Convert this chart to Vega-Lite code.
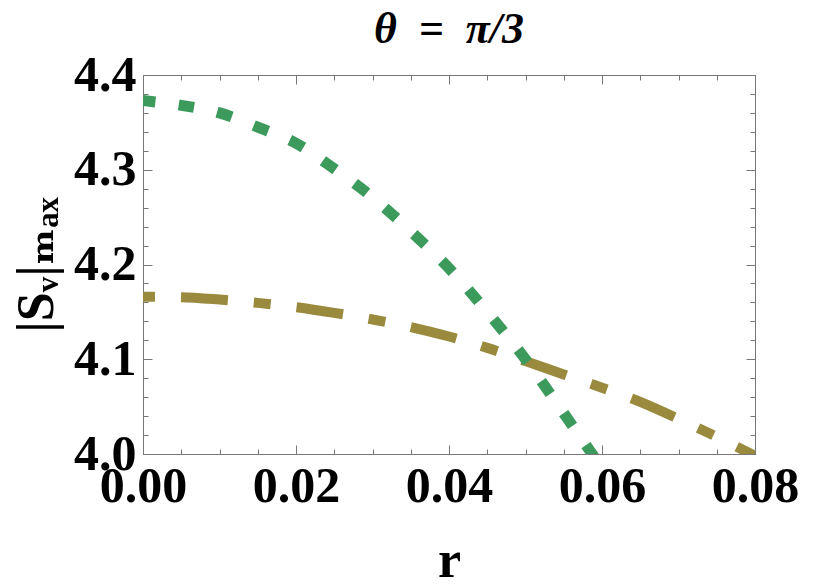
{
  "$schema": "https://vega.github.io/schema/vega-lite/v6.json",
  "autosize": {"type": "none"},
  "padding": {"left": 143, "top": 75, "right": 75, "bottom": 132},
  "width": 612,
  "height": 379,
  "background": "white",
  "config": {
    "view": {"stroke": "#777777", "strokeWidth": 1},
    "axis": {"grid": false, "domainColor": "#777777", "tickColor": "#777777", "labelFont": "Liberation Serif", "labelFontWeight": "bold", "labelFontSize": 50, "labelColor": "black", "titleFont": "Liberation Serif, DejaVu Serif", "titleFontWeight": "bold", "titleColor": "black", "labelOverlap": false, "labelBound": false, "labelFlush": false}
  },
  "title": {"text": "θ\u2002=\u2002π/3", "font": "Liberation Serif", "fontSize": 44, "fontWeight": "bold", "fontStyle": "italic", "anchor": "middle", "offset": -2, "color": "black"},
  "datasets": {
    "green": [
      {"r": 0, "v": 4.373}, {"r": 0.005, "v": 4.368}, {"r": 0.01, "v": 4.36}, {"r": 0.015, "v": 4.345},
      {"r": 0.02, "v": 4.328}, {"r": 0.025, "v": 4.301}, {"r": 0.03, "v": 4.271}, {"r": 0.035, "v": 4.235},
      {"r": 0.04, "v": 4.196}, {"r": 0.045, "v": 4.15}, {"r": 0.05, "v": 4.1}, {"r": 0.055, "v": 4.043},
      {"r": 0.06, "v": 3.985}
    ],
    "olive": [
      {"r": 0, "v": 4.166}, {"r": 0.005, "v": 4.1655}, {"r": 0.01, "v": 4.163}, {"r": 0.015, "v": 4.1595},
      {"r": 0.02, "v": 4.155}, {"r": 0.025, "v": 4.149}, {"r": 0.03, "v": 4.142}, {"r": 0.035, "v": 4.134},
      {"r": 0.04, "v": 4.124}, {"r": 0.045, "v": 4.112}, {"r": 0.05, "v": 4.098}, {"r": 0.055, "v": 4.084},
      {"r": 0.06, "v": 4.07}, {"r": 0.065, "v": 4.055}, {"r": 0.07, "v": 4.037}, {"r": 0.075, "v": 4.018},
      {"r": 0.08, "v": 3.998}
    ]
  },
  "layer": [
    {
      "data": {"name": "olive"},
      "mark": {"type": "line", "color": "#998a3e", "strokeWidth": 10, "strokeDash": [17, 26, 47, 26], "strokeDashOffset": 5, "clip": true, "interpolate": "monotone"},
      "encoding": {
        "x": {"field": "r", "type": "quantitative", "scale": {"domain": [0, 0.08], "nice": false, "zero": false},
          "axis": {"orient": "bottom", "title": "r", "titleFontSize": 52, "titlePadding": 20,
            "values": [0, 0.005, 0.01, 0.015, 0.02, 0.025, 0.03, 0.035, 0.04, 0.045, 0.05, 0.055, 0.06, 0.065, 0.07, 0.075, 0.08],
            "labelExpr": "abs(datum.value*50 - round(datum.value*50)) < 1e-6 ? format(datum.value, '.2f') : ''",
            "tickSize": {"condition": {"test": "abs(datum.value*50 - round(datum.value*50)) < 1e-6", "value": -9}, "value": -5},
            "labelPadding": 16}},
        "y": {"field": "v", "type": "quantitative", "scale": {"domain": [4.0, 4.4], "nice": false, "zero": false},
          "axis": {"orient": "left", "title": "|Sᵥ|ₘₐₓ", "titleFontSize": 52, "titlePadding": 10,
            "values": [4.0, 4.02, 4.04, 4.06, 4.08, 4.1, 4.12, 4.14, 4.16, 4.18, 4.2, 4.22, 4.24, 4.26, 4.28, 4.3, 4.32, 4.34, 4.36, 4.38, 4.4],
            "labelExpr": "abs(datum.value*10 - round(datum.value*10)) < 1e-6 ? format(datum.value, '.1f') : ''",
            "tickSize": {"condition": {"test": "abs(datum.value*10 - round(datum.value*10)) < 1e-6", "value": -9}, "value": -5},
            "labelPadding": 16}}
      }
    },
    {
      "data": {"name": "green"},
      "mark": {"type": "line", "color": "#3c9b5c", "strokeWidth": 11, "strokeDash": [15.5, 23.5], "strokeDashOffset": 3, "clip": true, "interpolate": "monotone"},
      "encoding": {
        "x": {"field": "r", "type": "quantitative", "scale": {"domain": [0, 0.08], "nice": false, "zero": false},
          "axis": {"orient": "top", "title": null, "labels": false,
            "values": [0, 0.005, 0.01, 0.015, 0.02, 0.025, 0.03, 0.035, 0.04, 0.045, 0.05, 0.055, 0.06, 0.065, 0.07, 0.075, 0.08],
            "tickSize": {"condition": {"test": "abs(datum.value*50 - round(datum.value*50)) < 1e-6", "value": -9}, "value": -5}}},
        "y": {"field": "v", "type": "quantitative", "scale": {"domain": [4.0, 4.4], "nice": false, "zero": false},
          "axis": {"orient": "right", "title": null, "labels": false,
            "values": [4.0, 4.02, 4.04, 4.06, 4.08, 4.1, 4.12, 4.14, 4.16, 4.18, 4.2, 4.22, 4.24, 4.26, 4.28, 4.3, 4.32, 4.34, 4.36, 4.38, 4.4],
            "tickSize": {"condition": {"test": "abs(datum.value*10 - round(datum.value*10)) < 1e-6", "value": -9}, "value": -5}}}
      }
    }
  ],
  "resolve": {"axis": {"x": "independent", "y": "independent"}}
}
